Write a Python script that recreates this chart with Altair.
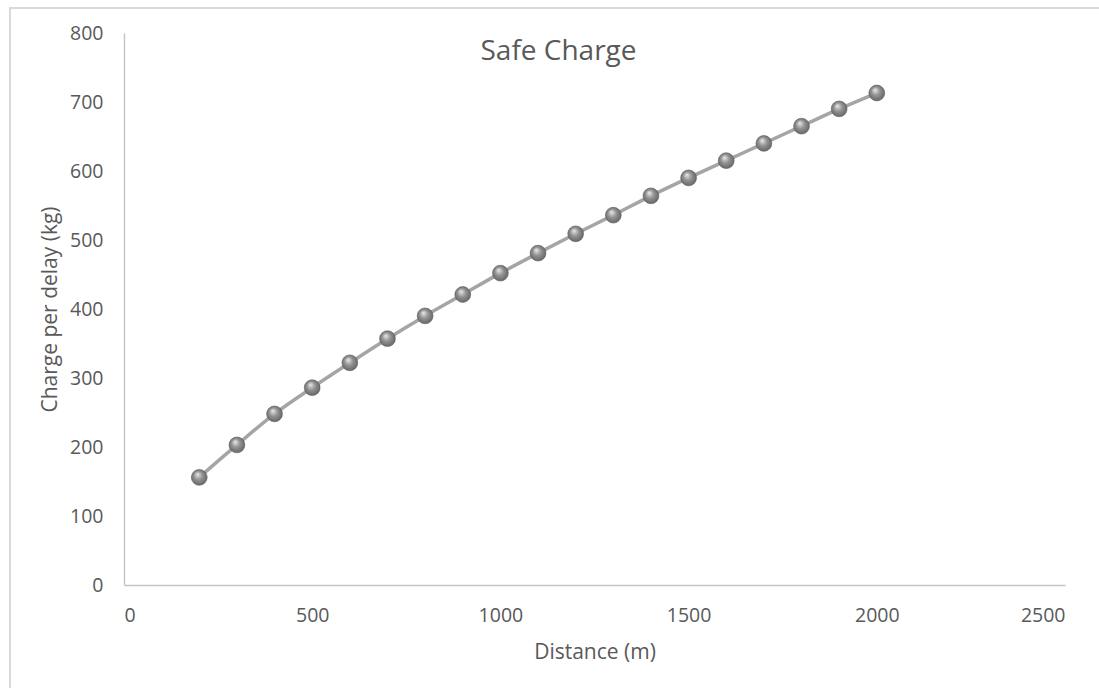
import altair as alt
import pandas as pd

# Distance from the blast (m) and the safe charge per delay (kg)
distance_m = [200, 300, 400, 500, 600, 700, 800, 900, 1000, 1100,
              1200, 1300, 1400, 1500, 1600, 1700, 1800, 1900, 2000]
charge_kg = [156, 203, 248, 286, 322, 357, 390, 421, 452, 481,
             509, 536, 564, 590, 615, 640, 665, 690, 713]

x_ticks = [0, 500, 1000, 1500, 2000, 2500]
y_ticks = [0, 100, 200, 300, 400, 500, 600, 700, 800]
chart_title = ["Safe Charge"]

df = pd.DataFrame({"distance": distance_m, "charge": charge_kg})
title_df = pd.DataFrame({"label": chart_title})

FONT = "Open Sans"
TEXT = "#595959"
AXIS_LINE = "#c4c4c4"

x_enc = alt.X(
    "distance:Q",
    scale=alt.Scale(domain=[0, 2500], nice=False),
    axis=alt.Axis(
        values=x_ticks, format="d", title="Distance (m)", grid=False, ticks=False, tickSize=0,
        domainColor=AXIS_LINE, domainWidth=1.4,
        labelFont=FONT, labelFontSize=19.5, labelColor=TEXT,
        labelBaseline="alphabetic", labelPadding=36,
        titleFont=FONT, titleFontSize=21, titleColor=TEXT, titleFontWeight="normal",
        titleBaseline="alphabetic", titleY=73,
    ),
)
y_enc = alt.Y(
    "charge:Q",
    scale=alt.Scale(domain=[0, 800], nice=False),
    axis=alt.Axis(
        values=y_ticks, format="d", title="Charge per delay (kg)", grid=False, ticks=False, tickSize=0,
        domainColor=AXIS_LINE, domainWidth=1.4,
        labelFont=FONT, labelFontSize=19.5, labelColor=TEXT, labelPadding=21,
        titleFont=FONT, titleFontSize=21, titleColor=TEXT, titleFontWeight="normal",
        titleBaseline="alphabetic", titleX=-68,
    ),
)

base = alt.Chart(df)

# outer chart-area frame
frame = base.mark_rect(fill=None, stroke="#d9d9d9", strokeWidth=1.5).encode(
    x=alt.value(-114), x2=alt.value(1100), y=alt.value(-25), y2=alt.value(700)
)

# chart title, centred over the whole chart area
title = alt.Chart(title_df).mark_text(
    font=FONT, fontSize=28, color=TEXT, align="center", baseline="alphabetic"
).encode(text="label:N", x=alt.value(434.5), y=alt.value(27))

line = base.mark_line(color="#a5a5a5", strokeWidth=3.5, interpolate="monotone").encode(
    x=x_enc, y=y_enc
)

sphere = alt.RadialGradient(
    gradient="radial",
    stops=[
        alt.GradientStop(color="#ececec", offset=0),
        alt.GradientStop(color="#929292", offset=0.45),
        alt.GradientStop(color="#5c5c5c", offset=1),
    ],
    x1=0.38, y1=0.3, r1=0, x2=0.5, y2=0.5, r2=0.6,
)
points = base.mark_point(
    filled=True, fill=sphere, stroke="#5c5c5c", strokeWidth=0.6, size=250, opacity=1
).encode(x="distance:Q", y="charge:Q")

chart = (
    alt.layer(frame, line, points, title)
    .properties(
        width=941,
        height=552,
        view=alt.ViewBackground(stroke="transparent", strokeWidth=0),
        autosize=alt.AutoSizeParams(type="none"),
        padding={"left": 124, "top": 33, "right": 34, "bottom": 103},
    )
    .configure(background="white", view=alt.ViewConfig(stroke="transparent", strokeWidth=0))
)

chart.save("out.html", embed_options={"renderer": "svg", "actions": False})
